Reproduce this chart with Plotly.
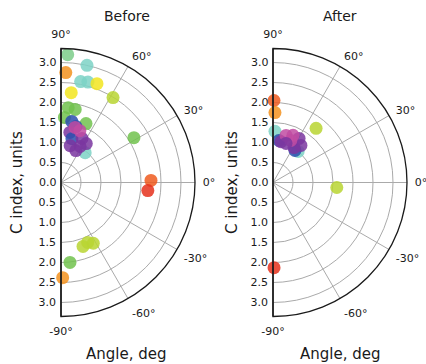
import plotly.graph_objects as go

# Colour of each sample group
palette = {
    "red": "#e5311c",
    "redorange": "#ee5a1e",
    "orange": "#f3921f",
    "yellow": "#f2e51f",
    "lime": "#b9d531",
    "green": "#71c24e",
    "mint": "#7ccd8a",
    "teal": "#7dd2c6",
    "blue": "#2b4fae",
    "purple": "#7a36a0",
    "magenta": "#c14ba2",
}

# Before: radius (C index, units), angle (deg), group
before_r = [3.20, 3.00, 2.75, 2.57, 2.60, 2.63, 2.26, 2.49, 1.88, 1.86, 1.63, 1.60,
            2.14, 2.25, 2.18, 1.69, 1.64, 1.72, 2.01, 2.38, 0.96,
            1.55, 1.45, 1.27, 1.13, 1.22, 0.95, 1.02, 1.16, 0.88, 1.42, 1.38]
before_theta = [87.0, 77.5, 87.5, 79.0, 75.0, 70.0, 83.5, 58.5, 84.5, 79.0, 87.0, 67.0,
                31.6, 1.3, -5.3, -71.0, -66.0, -62.0, -83.6, -89.0, 51.0,
                80.0, 75.0, 80.0, 76.0, 64.5, 76.0, 62.0, 57.0, 65.0, 75.7, 70.0]
before_group = ["mint", "teal", "orange", "teal", "teal", "yellow", "yellow", "lime",
                "green", "green", "green", "green", "green", "redorange", "red",
                "lime", "lime", "lime", "green", "orange", "teal",
                "blue", "blue", "purple", "blue", "purple", "purple", "purple",
                "purple", "purple", "magenta", "magenta"]

# After: radius (C index, units), angle (deg), group
after_r = [2.05, 1.75, 1.28, 1.73, 1.60, 2.13,
           1.00, 0.97, 1.06, 1.04, 1.16, 1.02, 1.28, 1.22, 1.28, 1.14, 1.03]
after_theta = [89.3, 88.4, 87.8, 51.5, -4.5, -89.3,
               51.0, 55.5, 82.0, 79.0, 53.0, 59.0, 59.4, 74.5, 67.0, 67.0, 71.6]
after_group = ["redorange", "orange", "teal", "lime", "lime", "red",
               "teal", "blue", "blue", "purple", "purple", "purple", "purple",
               "magenta", "magenta", "magenta", "purple"]

angle_ticks = [-90, -60, -30, 0, 30, 60, 90]
angle_text = [f"{a}°" for a in angle_ticks]
upper_ticks = [0.0, 0.5, 1.0, 1.5, 2.0, 2.5, 3.0]
lower_ticks = [0.5, 1.0, 1.5, 2.0, 2.5, 3.0]
r_max = 3.35

FONT = "DejaVu Sans"
INK = "#1a1a1a"
GRID = "#aaaaaa"

fig = go.Figure()

fig.add_trace(go.Scatterpolar(
    r=before_r, theta=before_theta, mode="markers", subplot="polar",
    marker=dict(size=13, color=[palette[g] for g in before_group], opacity=0.85),
    showlegend=False, hoverinfo="skip"))
fig.add_trace(go.Scatterpolar(r=[], theta=[], subplot="polar2", showlegend=False))
fig.add_trace(go.Scatterpolar(
    r=after_r, theta=after_theta, mode="markers", subplot="polar3",
    marker=dict(size=13, color=[palette[g] for g in after_group], opacity=0.85),
    showlegend=False, hoverinfo="skip"))
fig.add_trace(go.Scatterpolar(r=[], theta=[], subplot="polar4", showlegend=False))


def main_polar(xdom, ydom):
    return dict(
        domain=dict(x=xdom, y=ydom), sector=[-90, 90], bgcolor="white",
        angularaxis=dict(
            rotation=0, direction="counterclockwise", tickmode="array",
            tickvals=angle_ticks, ticktext=angle_text,
            showline=True, linecolor=INK, linewidth=1.3,
            showgrid=True, gridcolor=GRID, gridwidth=1,
            ticks="outside", ticklen=5, tickcolor="rgba(0,0,0,0)",
            tickfont=dict(family=FONT, size=11, color=INK)),
        radialaxis=dict(
            range=[0, r_max], angle=90, side="counterclockwise", tickangle=90,
            tickmode="array", tickvals=upper_ticks,
            ticktext=[f"{v:.1f}" for v in upper_ticks],
            showline=True, linecolor=INK, linewidth=1.3,
            showgrid=True, gridcolor=GRID, gridwidth=1, ticks="",
            tickfont=dict(family=FONT, size=11, color=INK)))


def lower_polar(xdom, ydom):
    return dict(
        domain=dict(x=xdom, y=ydom), sector=[-90, 90], bgcolor="rgba(0,0,0,0)",
        angularaxis=dict(visible=False, rotation=0, direction="counterclockwise"),
        radialaxis=dict(
            range=[0, r_max], angle=-90, side="clockwise", tickangle=-90,
            tickmode="array", tickvals=lower_ticks,
            ticktext=[f"{v:.1f}" for v in lower_ticks],
            showline=True, linecolor=INK, linewidth=1.3,
            showgrid=False, ticks="",
            tickfont=dict(family=FONT, size=11, color=INK)))


W, H = 426, 364
left_x = [61 / W, 195 / W]
right_x = [273 / W, 407 / W]
ydom = [1 - 316.5 / H, 1 - 48.5 / H]

fig.update_layout(
    width=W, height=H, margin=dict(l=0, r=0, t=0, b=0),
    paper_bgcolor="white", plot_bgcolor="white",
    polar=main_polar(left_x, ydom), polar2=lower_polar(left_x, ydom),
    polar3=main_polar(right_x, ydom), polar4=lower_polar(right_x, ydom),
)


def label(x, y, text, size, angle=0):
    fig.add_annotation(x=x / W, y=1 - y / H, xref="paper", yref="paper",
                       xanchor="center", yanchor="middle", text=text,
                       textangle=angle, showarrow=False,
                       font=dict(family=FONT, size=size, color=INK))


for cx, title in [(127, "Before"), (340, "After")]:
    label(cx, 16, title, 14)
    label(cx, 354, "Angle, deg", 15)
for lx in (17, 232):
    label(lx, 183, "C index, units", 15, angle=-90)

fig.write_html("out.html")
